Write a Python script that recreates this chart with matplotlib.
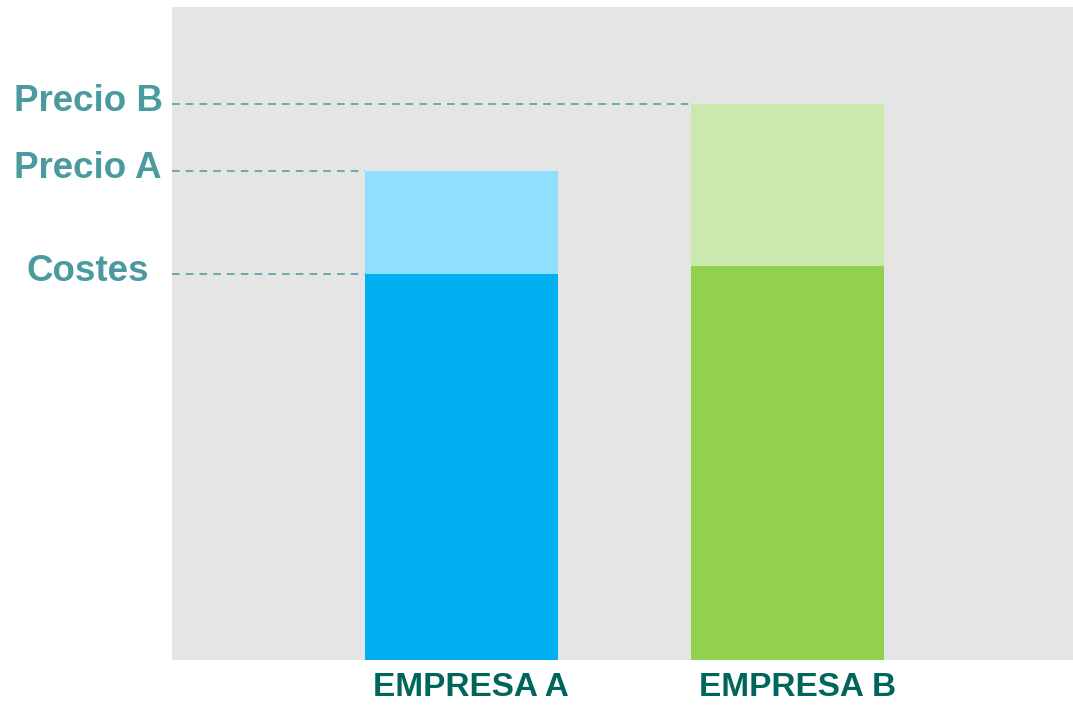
import matplotlib
matplotlib.use('Agg')
import matplotlib.pyplot as plt
import matplotlib.transforms as mtransforms

# data
empresas = ['EMPRESA A', 'EMPRESA B']
costes = [59.1, 60.3]
precios = [74.9, 85.1]
etiquetas = ['Precio B', 'Precio A', 'Costes']
niveles = [precios[1], precios[0], costes[0]]
fin_linea = [1, 0, 0]  # bar index where each dashed line stops

plt.rcParams['font.family'] = ['Liberation Sans', 'DejaVu Sans']

col_cost = ['#00b0f0', '#92d050']
col_price = ['#8fdfff', '#cce9ad']
teal = '#4a9aa0'
teal_dark = '#00665c'

fig = plt.figure(figsize=(10.73, 7.05), dpi=100)
ax = fig.add_axes([172 / 1073, 45 / 705, 901 / 1073, 653 / 705])
ax.set_facecolor('#e5e5e5')

x = [0, 1]
w = 0.592
ax.bar(x, costes, width=w, color=col_cost, zorder=2)
ax.bar(x, [p - c for p, c in zip(precios, costes)], bottom=costes, width=w,
       color=col_price, zorder=2)

xmin, xmax = -0.888, 1.876
ax.set_xlim(xmin, xmax)
ax.set_ylim(0, 100)

trans = mtransforms.blended_transform_factory(ax.transAxes, ax.transData)
for lab, lv, i in zip(etiquetas, niveles, fin_linea):
    ax.plot([xmin, x[i] - w / 2], [lv, lv], color=teal, lw=1.1,
            dashes=(5, 4), zorder=3, clip_on=False)
    ax.annotate(lab, xy=(-0.0932, lv), xycoords=trans, xytext=(0, -5),
                textcoords='offset points', ha='center', va='baseline',
                fontsize=26.5, fontweight='bold', color=teal,
                annotation_clip=False)

ax.set_xticks(x)
ax.set_xticklabels(empresas, fontsize=24, fontweight='bold', color=teal_dark)
ax.tick_params(axis='x', length=0, pad=9)
shift = mtransforms.ScaledTranslation(7 / 72, 0, fig.dpi_scale_trans)
for t in ax.get_xticklabels():
    t.set_transform(t.get_transform() + shift)
ax.set_yticks([])
for s in ax.spines.values():
    s.set_visible(False)

fig.savefig('out.png', dpi=100)
